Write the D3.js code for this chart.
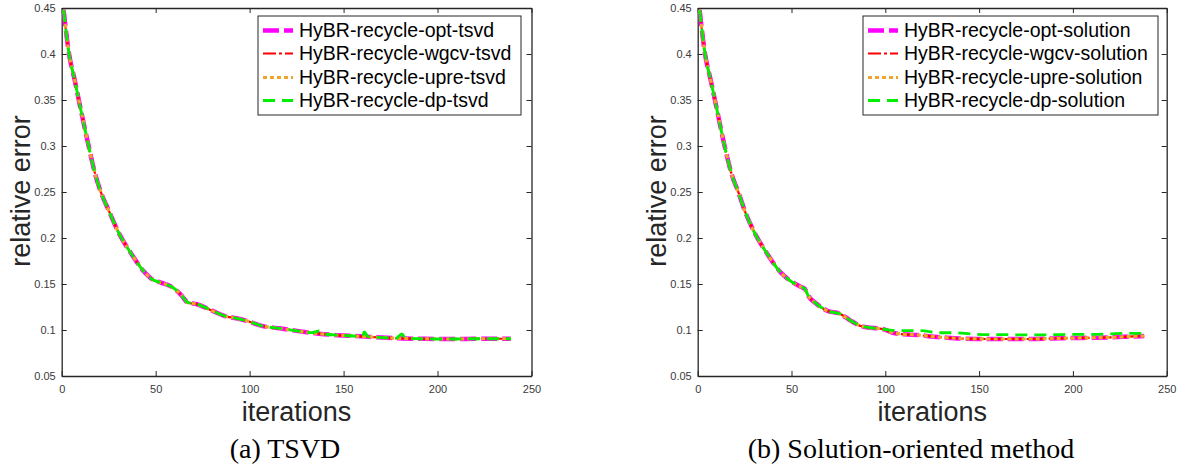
<!DOCTYPE html>
<html>
<head>
<meta charset="utf-8">
<script src="https://cdn.jsdelivr.net/npm/d3@7"></script>
<style>
  html, body { margin: 0; padding: 0; background: #fff; }
  svg { display: block; }
</style>
</head>
<body>
<svg id="chart" width="1177" height="468"></svg>
<script>
// ---------- data ----------
const xTicks = [0, 50, 100, 150, 200, 250];
const yTicks = [0.05, 0.1, 0.15, 0.2, 0.25, 0.3, 0.35, 0.4, 0.45];
const yTickLabels = ["0.05", "0.1", "0.15", "0.2", "0.25", "0.3", "0.35", "0.4", "0.45"];

// Panel (a) TSVD
const tsvdIter = [1, 4, 7, 10, 14, 18, 21, 25, 30, 37, 44, 49, 52, 55, 60, 64, 67, 72, 80, 87, 93, 100, 106, 116, 127, 137, 145, 155, 162, 170, 178, 190, 200, 210, 220, 230, 239];
const tsvdOpt  = [0.448, 0.399, 0.371, 0.341, 0.303, 0.268, 0.249, 0.230, 0.207, 0.183, 0.163, 0.154, 0.152, 0.150, 0.145, 0.137, 0.130, 0.128, 0.121, 0.115, 0.1127, 0.109, 0.1047, 0.1018, 0.0985, 0.0960, 0.0946, 0.0935, 0.0928, 0.0918, 0.0910, 0.0905, 0.0902, 0.0902, 0.0905, 0.0905, 0.0905];
const tsvdWgcv = [0.448, 0.399, 0.371, 0.341, 0.303, 0.268, 0.249, 0.230, 0.207, 0.183, 0.163, 0.154, 0.152, 0.150, 0.145, 0.137, 0.130, 0.128, 0.121, 0.115, 0.1127, 0.109, 0.1047, 0.1018, 0.0985, 0.0960, 0.0946, 0.0935, 0.0928, 0.0918, 0.0910, 0.0905, 0.0902, 0.0902, 0.0905, 0.0905, 0.0905];
const tsvdUpre = [0.448, 0.399, 0.371, 0.341, 0.303, 0.268, 0.249, 0.230, 0.207, 0.183, 0.163, 0.154, 0.152, 0.150, 0.145, 0.137, 0.130, 0.128, 0.121, 0.115, 0.1127, 0.109, 0.1047, 0.1018, 0.0985, 0.0960, 0.0946, 0.0935, 0.0928, 0.0918, 0.0910, 0.0905, 0.0902, 0.0902, 0.0905, 0.0905, 0.0905];
const tsvdDpIter = [1, 4, 7, 10, 14, 18, 21, 25, 30, 37, 44, 49, 52, 55, 60, 64, 67, 72, 80, 87, 93, 100, 106, 116, 127, 133, 137, 139, 145, 155, 160, 161, 163, 170, 178, 181, 183, 190, 200, 210, 220, 230, 239];
const tsvdDp     = [0.448, 0.399, 0.371, 0.341, 0.303, 0.268, 0.249, 0.230, 0.207, 0.183, 0.163, 0.154, 0.152, 0.150, 0.145, 0.137, 0.130, 0.128, 0.121, 0.115, 0.1127, 0.109, 0.1047, 0.1018, 0.0985, 0.0972, 0.0989, 0.0958, 0.0946, 0.0935, 0.0930, 0.0980, 0.0928, 0.0918, 0.0912, 0.0957, 0.0910, 0.0905, 0.0902, 0.0902, 0.0905, 0.0905, 0.0905];

// Panel (b) Solution-oriented
const solIter = [1, 4, 7, 10, 14, 18, 22, 25, 30, 37, 44, 49, 55, 57, 59, 63, 69, 76, 81, 87, 90, 99, 104, 110, 117, 126, 133, 143, 150, 158, 168, 176, 185, 193, 202, 211, 220, 229, 238];
const solOpt  = [0.448, 0.399, 0.371, 0.342, 0.303, 0.270, 0.248, 0.230, 0.207, 0.183, 0.163, 0.154, 0.147, 0.145, 0.137, 0.129, 0.121, 0.1174, 0.1109, 0.1043, 0.103, 0.1008, 0.097, 0.0953, 0.0946, 0.0927, 0.0916, 0.0905, 0.0903, 0.0902, 0.0902, 0.0902, 0.0905, 0.0910, 0.0913, 0.0916, 0.0920, 0.0927, 0.0935];
const solWgcv = [0.448, 0.399, 0.371, 0.342, 0.303, 0.270, 0.248, 0.230, 0.207, 0.183, 0.163, 0.154, 0.147, 0.145, 0.137, 0.129, 0.121, 0.1174, 0.1109, 0.1043, 0.103, 0.1008, 0.097, 0.0953, 0.0946, 0.0927, 0.0916, 0.0905, 0.0903, 0.0902, 0.0902, 0.0902, 0.0905, 0.0910, 0.0913, 0.0916, 0.0920, 0.0927, 0.0935];
const solUpre = [0.448, 0.399, 0.371, 0.342, 0.303, 0.270, 0.248, 0.230, 0.207, 0.183, 0.163, 0.154, 0.147, 0.145, 0.137, 0.129, 0.121, 0.1174, 0.1109, 0.1043, 0.103, 0.1008, 0.097, 0.0953, 0.0946, 0.0927, 0.0916, 0.0905, 0.0903, 0.0902, 0.0902, 0.0902, 0.0905, 0.0910, 0.0913, 0.0916, 0.0920, 0.0927, 0.0935];
const solDpIter = [1, 4, 7, 10, 14, 18, 22, 25, 30, 37, 44, 49, 55, 57, 59, 63, 69, 76, 81, 87, 90, 99, 104, 110, 119, 128, 137, 146, 155, 164, 173, 182, 191, 200, 210, 219, 228, 238];
const solDp     = [0.448, 0.399, 0.371, 0.342, 0.303, 0.270, 0.248, 0.230, 0.207, 0.183, 0.163, 0.154, 0.147, 0.145, 0.137, 0.129, 0.121, 0.1174, 0.1109, 0.1043, 0.103, 0.1008, 0.0995, 0.0993, 0.0993, 0.0970, 0.0970, 0.0957, 0.0949, 0.0949, 0.0946, 0.0946, 0.0949, 0.0953, 0.0953, 0.0957, 0.0964, 0.0964];

const tsvdNames = ["HyBR-recycle-opt-tsvd", "HyBR-recycle-wgcv-tsvd", "HyBR-recycle-upre-tsvd", "HyBR-recycle-dp-tsvd"];
const solNames  = ["HyBR-recycle-opt-solution", "HyBR-recycle-wgcv-solution", "HyBR-recycle-upre-solution", "HyBR-recycle-dp-solution"];
const captions  = ["(a) TSVD", "(b) Solution-oriented method"];

// ---------- styles ----------
const seriesStyle = [
  { color: "#FF00FF", width: 4.5, dash: "16,5" },
  { color: "#FF0000", width: 2.2, dash: "13,3,3,3" },
  { color: "#EFA42A", width: 3.2, dash: "4,3" },
  { color: "#00EE00", width: 2.8, dash: "12,7" }
];

const svg = d3.select("#chart");
const axisColor = "#262626";

const panels = [
  { left: 61.7, right: 531.5, top: 8, bottom: 376, names: tsvdNames, caption: captions[0],
    series: [[tsvdIter, tsvdOpt], [tsvdIter, tsvdWgcv], [tsvdIter, tsvdUpre], [tsvdDpIter, tsvdDp]],
    legend: { x0: 258, x1: 521, y0: 16, y1: 115, s0: 263, s1: 293, tx: 299 },
    ylabX: 30, capX: 285 },
  { left: 697.7, right: 1166.7, top: 8, bottom: 376, names: solNames, caption: captions[1],
    series: [[solIter, solOpt], [solIter, solWgcv], [solIter, solUpre], [solDpIter, solDp]],
    legend: { x0: 863, x1: 1158, y0: 16, y1: 115, s0: 868, s1: 898, tx: 904 },
    ylabX: 666, capX: 911 }
];

panels.forEach((p, pi) => {
  const x = d3.scaleLinear().domain([0, 250]).range([p.left, p.right]);
  const y = d3.scaleLinear().domain([0.05, 0.45]).range([p.bottom, p.top]);
  const g = svg.append("g");

  const clipId = "clip" + pi;
  svg.append("clipPath").attr("id", clipId).append("rect")
    .attr("x", p.left).attr("y", p.top).attr("width", p.right - p.left).attr("height", p.bottom - p.top);

  // axes
  const fmtY = (d) => yTickLabels[yTicks.indexOf(d)];
  const axB = d3.axisBottom(x).tickValues(xTicks).tickSize(-5).tickPadding(9).tickSizeOuter(0);
  const axT = d3.axisTop(x).tickValues(xTicks).tickSize(-5).tickFormat("").tickSizeOuter(0);
  const axL = d3.axisLeft(y).tickValues(yTicks).tickSize(-5).tickPadding(6).tickFormat(fmtY).tickSizeOuter(0);
  const axR = d3.axisRight(y).tickValues(yTicks).tickSize(-5).tickFormat("").tickSizeOuter(0);

  [[axB, `translate(0,${p.bottom})`], [axT, `translate(0,${p.top})`],
   [axL, `translate(${p.left},0)`], [axR, `translate(${p.right},0)`]].forEach(([ax, tr]) => {
    const a = g.append("g").attr("transform", tr).call(ax);
    a.select(".domain").attr("stroke", axisColor).attr("stroke-width", 1.3);
    a.selectAll(".tick line").attr("stroke", axisColor).attr("stroke-width", 1);
    a.selectAll(".tick text").attr("fill", "#3a3a3a").style("font-family", "'Liberation Sans', Arial, sans-serif").style("font-size", "11px");
  });

  // lines
  const lineG = g.append("g").attr("clip-path", `url(#${clipId})`);
  p.series.forEach(([its, vals], si) => {
    const st = seriesStyle[si];
    const pts = its.map((it, k) => [it, vals[k]]);
    lineG.append("path")
      .attr("d", d3.line().x(d => x(d[0])).y(d => y(d[1])).curve(d3.curveMonotoneX)(pts))
      .attr("fill", "none").attr("stroke", st.color).attr("stroke-width", st.width)
      .attr("stroke-dasharray", st.dash).attr("stroke-linejoin", "round");
  });

  // legend
  const L = p.legend;
  g.append("rect").attr("x", L.x0).attr("y", L.y0).attr("width", L.x1 - L.x0).attr("height", L.y1 - L.y0)
    .attr("fill", "#fff").attr("stroke", axisColor).attr("stroke-width", 1);
  const rowY = [30.5, 53.5, 77.5, 100.5];
  p.names.forEach((name, i) => {
    const st = seriesStyle[i];
    g.append("line").attr("x1", L.s0).attr("x2", L.s1).attr("y1", rowY[i]).attr("y2", rowY[i])
      .attr("stroke", st.color).attr("stroke-width", st.width).attr("stroke-dasharray", st.dash);
    g.append("text").attr("x", L.tx).attr("y", rowY[i] + 6.8).text(name)
      .style("font-family", "'Liberation Sans', Arial, sans-serif").style("font-size", "19.5px").attr("fill", "#000");
  });

  // axis labels
  g.append("text").attr("x", (p.left + p.right) / 2).attr("y", 421).attr("text-anchor", "middle")
    .style("font-family", "'Liberation Sans', Arial, sans-serif").style("font-size", "27px").attr("fill", "#262626")
    .text("iterations");
  g.append("text").attr("transform", `translate(${p.ylabX},${191}) rotate(-90)`).attr("text-anchor", "middle")
    .style("font-family", "'Liberation Sans', Arial, sans-serif").style("font-size", "27px").attr("fill", "#262626")
    .text("relative error");

  // caption
  g.append("text").attr("x", p.capX).attr("y", 458).attr("text-anchor", "middle")
    .style("font-family", "'Liberation Serif', 'Times New Roman', serif").style("font-size", "28px").attr("fill", "#000")
    .text(p.caption);
});
</script>
</body>
</html>
